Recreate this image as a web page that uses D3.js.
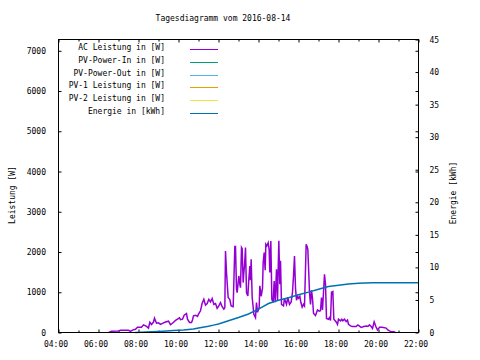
<!DOCTYPE html>
<html><head><meta charset="utf-8">
<script src="https://cdn.jsdelivr.net/npm/d3@7"></script>
<style>
html,body{margin:0;padding:0;background:#fff;}
svg text{font-family:"DejaVu Sans Mono",monospace;font-size:8px;fill:#000;}
</style>
</head><body>
<svg id="chart" width="480" height="360"></svg>
<script>
const title = "Tagesdiagramm vom 2016-08-14";
const xTickLabels = ["04:00","06:00","08:00","10:00","12:00","14:00","16:00","18:00","20:00","22:00"];
const yTicks = [0,1000,2000,3000,4000,5000,6000,7000];
const y2Ticks = [0,5,10,15,20,25,30,35,40,45];
const legendLabels = ["AC Leistung in [W]","PV-Power-In in [W]","PV-Power-Out in [W]","PV-1 Leistung in [W]","PV-2 Leistung in [W]","Energie in [kWh]"];
const legendColors = ["#9400d3","#009e73","#56b4e9","#e69f00","#f0e442","#0072b2"];

const acTimes = ["06:30","06:33","06:39","07:00","07:06","07:30","07:36","07:42","07:51","07:57","08:09","08:15","08:24","08:30","08:34","08:39","08:45","08:48","08:54","09:00","09:06","09:12","09:21","09:30","09:36","09:42","09:51","09:57","10:03","10:06","10:12","10:17","10:24","10:27","10:33","10:39","10:42","10:45","10:51","10:57","11:00","11:06","11:11","11:16","11:21","11:26","11:31","11:36","11:41","11:46","11:51","11:56","12:01","12:06","12:11","12:16","12:19","12:21","12:24","12:29","12:34","12:38","12:44","12:49","12:51","12:54","12:56","13:01","13:04","13:06","13:09","13:11","13:14","13:16","13:18","13:21","13:24","13:28","13:31","13:34","13:36","13:38","13:41","13:46","13:51","13:54","13:57","14:02","14:04","14:08","14:12","14:14","14:17","14:20","14:22","14:25","14:29","14:32","14:34","14:37","14:40","14:44","14:47","14:50","14:54","14:57","15:01","15:04","15:06","15:09","15:15","15:18","15:24","15:28","15:33","15:38","15:42","15:45","15:48","15:51","15:54","15:57","16:00","16:04","16:07","16:11","16:15","16:18","16:21","16:23","16:26","16:28","16:30","16:33","16:36","16:39","16:42","16:45","16:51","16:57","17:02","17:06","17:09","17:12","17:15","17:18","17:21","17:24","17:30","17:33","17:36","17:39","17:43","17:46","17:50","17:54","17:57","18:00","18:06","18:10","18:13","18:18","18:23","18:27","18:30","18:36","18:42","18:53","18:58","19:03","19:08","19:16","19:23","19:28","19:33","19:38","19:42","19:47","19:52","19:57","20:03","20:11","20:23","20:28","20:33","20:38","20:46","20:51"];
const acValues = [0,10,30,40,55,55,30,60,80,130,130,190,150,110,255,200,260,355,230,240,200,225,260,280,195,230,300,330,365,320,330,430,470,330,250,250,310,415,430,400,455,540,730,825,680,720,825,760,845,700,720,600,660,745,640,580,620,2025,1490,870,820,660,640,2135,2135,1075,990,1405,1200,1115,2110,2080,1240,1490,1650,2110,990,910,1320,1650,1300,1820,875,455,370,745,500,620,1160,900,1100,1735,1985,1550,2190,2150,2230,2050,1490,2275,825,750,1280,750,1570,790,2280,1200,1785,700,660,840,700,870,700,760,1000,1400,1900,1100,800,900,850,900,750,630,700,660,1580,2190,2130,2065,1650,1000,700,1050,850,480,420,560,530,540,870,560,1000,1445,1200,350,330,370,300,1000,1020,330,290,250,200,330,290,330,290,330,270,310,205,165,150,150,190,160,125,150,160,150,190,150,100,265,150,60,130,130,110,65,40,17,20,0];

const energyTimes = ["07:50","08:40","09:15","09:45","10:15","10:45","11:00","11:30","11:45","12:00","12:30","13:00","13:30","14:00","14:30","15:00","15:30","16:00","16:30","17:00","17:30","18:00","18:30","19:00","19:40","22:00"];
const energyValues = [0,0.1,0.2,0.3,0.4,0.55,0.7,0.95,1.13,1.3,1.8,2.3,2.85,3.6,4.45,4.95,5.35,5.8,6.2,6.65,7.05,7.25,7.45,7.55,7.65,7.65];

const toH = s => { const [h,m] = s.split(":").map(Number); return h + m/60; };

const L = 58.5, R = 418.5, T = 39.5, B = 332.5;
const x = d3.scaleLinear().domain([4,22]).range([L,R]);
const y = d3.scaleLinear().domain([0,7280]).range([B,T]);
const y2 = d3.scaleLinear().domain([0,45]).range([B,T]);

const svg = d3.select("#chart");
svg.append("rect").attr("width",480).attr("height",360).attr("fill","#fff");

// title
svg.append("text").attr("x",223).attr("y",21).attr("text-anchor","middle").text(title);

const hours = d3.range(4,23,1);
// bottom axis
const gB = svg.append("g").attr("transform",`translate(0,${B})`)
  .call(d3.axisBottom(x).tickValues(hours).tickSize(-3).tickPadding(0)
    .tickFormat(h => h%2===0 ? xTickLabels[(h-4)/2] : ""));
gB.select(".domain").remove();
gB.selectAll(".tick line").attr("y2", d => d%2===0 ? -3 : -2).attr("stroke","#000");
gB.selectAll(".tick text").attr("y",9).attr("dy","0.71em").attr("dx",-3).style("font-size","8px").style("font-family","DejaVu Sans Mono");
// top axis (mirror)
const gT = svg.append("g").attr("transform",`translate(0,${T})`)
  .call(d3.axisTop(x).tickValues(hours).tickSize(-3).tickFormat(""));
gT.select(".domain").remove();
gT.selectAll(".tick line").attr("y2", d => d%2===0 ? 3 : 2).attr("stroke","#000");

// left axis
const gL = svg.append("g").attr("transform",`translate(${L},0)`)
  .call(d3.axisLeft(y).tickValues(yTicks).tickSize(-3).tickPadding(12.5).tickFormat(d3.format("d")));
gL.select(".domain").remove();
gL.selectAll(".tick text").style("font-size","8px").style("font-family","DejaVu Sans Mono");
gL.selectAll(".tick line").attr("stroke","#000");
// right mirror of y
const gRm = svg.append("g").attr("transform",`translate(${R},0)`)
  .call(d3.axisRight(y).tickValues(yTicks.filter(v=>v>0)).tickSize(-3).tickFormat(""));
gRm.select(".domain").remove();
gRm.selectAll(".tick line").attr("stroke","#000");
// right y2 axis
const gR = svg.append("g").attr("transform",`translate(${R},0)`)
  .call(d3.axisRight(y2).tickValues(y2Ticks).tickSize(-3).tickPadding(11).tickFormat(d3.format("d")));
gR.select(".domain").remove();
gR.selectAll(".tick text").style("font-size","8px").style("font-family","DejaVu Sans Mono");
gR.selectAll(".tick line").attr("stroke","#000");

// axis labels
svg.append("text").attr("transform","translate(15,195) rotate(-90)").attr("text-anchor","middle").text("Leistung [W]");
svg.append("text").attr("transform","translate(456,193) rotate(-90)").attr("text-anchor","middle").text("Energie [kWh]");

// data lines
const acData = acTimes.map((t,i)=>({h:toH(t), v:acValues[i]}));
const enData = energyTimes.map((t,i)=>({h:toH(t), v:energyValues[i]}));
svg.append("path").datum(acData)
  .attr("d", d3.line().x(d=>x(d.h)).y(d=>y(d.v)))
  .attr("fill","none").attr("stroke",legendColors[0]).attr("stroke-width",1.5);
svg.append("path").datum(enData)
  .attr("d", d3.line().x(d=>x(d.h)).y(d=>y2(d.v)))
  .attr("fill","none").attr("stroke",legendColors[5]).attr("stroke-width",1.5);

// border
svg.append("rect").attr("x",L).attr("y",T).attr("width",R-L).attr("height",B-T)
  .attr("fill","none").attr("stroke","#000").attr("stroke-width",1);

// legend
const lg = svg.append("g");
legendLabels.forEach((lab,i)=>{
  const by = 50 + i*12.8;
  lg.append("text").attr("x",165).attr("y",by).attr("text-anchor","end").text(lab);
  lg.append("line").attr("x1",190).attr("x2",218).attr("y1",Math.round(by-1)+0.5).attr("y2",Math.round(by-1)+0.5)
    .attr("stroke",legendColors[i]).attr("stroke-width",1);
});
</script>
</body></html>
